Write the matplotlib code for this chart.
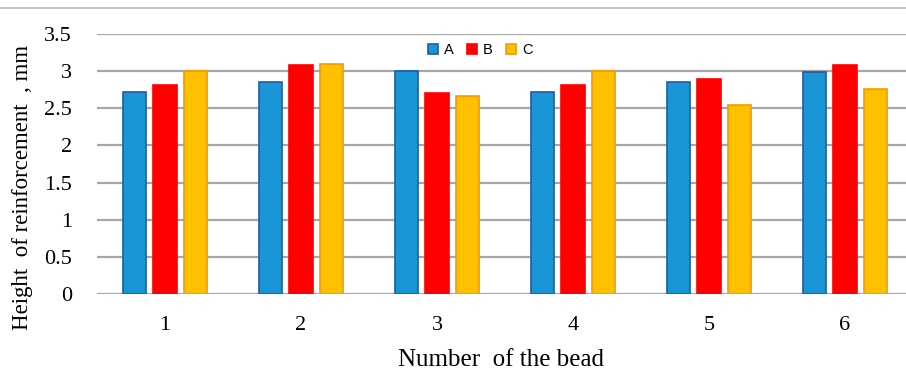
import matplotlib
matplotlib.use("Agg")
import matplotlib.pyplot as plt
from matplotlib.lines import Line2D
import numpy as np

# Bead numbers and reinforcement heights (mm) for the three series
beads = ["1", "2", "3", "4", "5", "6"]
series_names = ["A", "B", "C"]
values_a = [2.72, 2.86, 3.00, 2.72, 2.86, 2.99]
values_b = [2.81, 3.08, 2.71, 2.81, 2.90, 3.08]
values_c = [3.00, 3.10, 2.66, 3.00, 2.54, 2.76]
y_ticks = [0, 0.5, 1, 1.5, 2, 2.5, 3, 3.5]
y_tick_labels = ["0", "0.5", "1", "1.5", "2", "2.5", "3", "3.5"]

face_colors = ["#1a96d6", "#ff0000", "#ffc000"]
edge_colors = ["#1f5aa8", "#ff0000", "#f59a00"]

fig = plt.figure(figsize=(9.06, 3.79), dpi=100)
ax = fig.add_axes([0.107, 0.2243, 0.9007, 0.686])

x = np.arange(len(beads))
width = 0.17
step = 0.225
for i, (vals, fc, ec, name) in enumerate(zip([values_a, values_b, values_c],
                                              face_colors, edge_colors, series_names)):
    ax.bar(x + (i - 1) * step, vals, width, color=fc, edgecolor=ec,
           linewidth=1.2, label=name, zorder=3)

ax.set_xlim(-0.5, len(beads) - 0.5)
ax.set_ylim(0, 3.5)
ax.set_yticks(y_ticks)
ax.set_yticklabels(y_tick_labels)
ax.set_xticks(x)
ax.set_xticklabels(beads)

serif = ["Liberation Serif", "DejaVu Serif"]
for lbl in ax.get_yticklabels():
    lbl.set_fontfamily(serif)
    lbl.set_fontsize(16)
for lbl in ax.get_xticklabels():
    lbl.set_fontfamily(serif)
    lbl.set_fontsize(16)

ax.tick_params(axis="y", length=0, pad=18)
ax.tick_params(axis="x", length=0, pad=16)
ax.yaxis.grid(True, color="#a6a6a6", linewidth=1.6, zorder=0)
ax.set_axisbelow(True)
for side in ["top", "right", "left", "bottom"]:
    ax.spines[side].set_visible(False)

fig.text(0.5525, 0.05, "Number  of the bead", family=serif, fontsize=18,
         ha="center", va="center")
fig.text(0.025, 0.505, "Height  of reinforcement  , mm", family=serif,
         fontsize=16.5, rotation=90, ha="center", va="center")

# Thin frame line along the top of the chart area
fig.add_artist(Line2D([0, 1], [0.979, 0.979], transform=fig.transFigure,
                      color="#c8c8c8", linewidth=1.5))

handles = [plt.Rectangle((0, 0), 1, 1, facecolor=fc, edgecolor=ec, linewidth=1.2)
           for fc, ec in zip(face_colors, edge_colors)]
fig.legend(handles, series_names, loc="center", bbox_to_anchor=(0.53, 0.868),
           ncol=3, frameon=False, handlelength=0.7, handleheight=0.7,
           handletextpad=0.4, columnspacing=0.9,
           prop={"family": "Liberation Sans", "size": 10.5})

fig.savefig("out.png", dpi=100, facecolor="white")
